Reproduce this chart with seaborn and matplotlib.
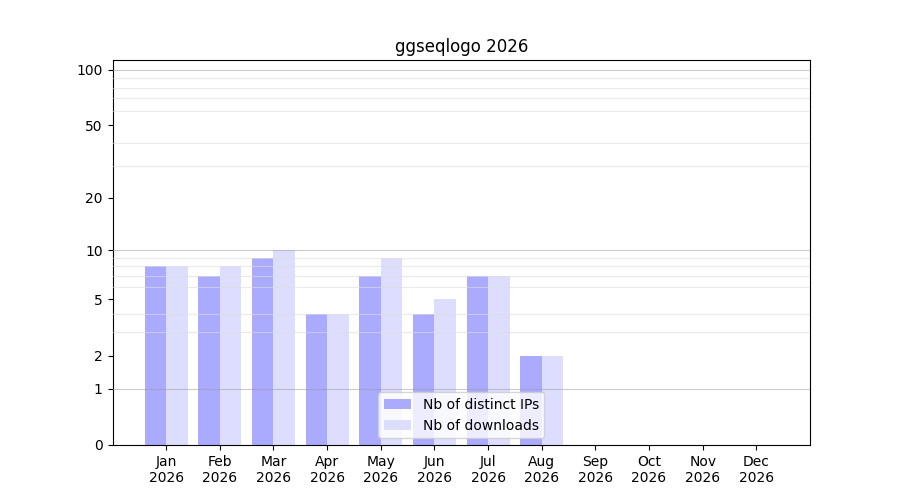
import numpy as np
import pandas as pd
import seaborn as sns
import matplotlib.pyplot as plt

months = ["Jan", "Feb", "Mar", "Apr", "May", "Jun",
          "Jul", "Aug", "Sep", "Oct", "Nov", "Dec"]
year = "2026"
distinct_ips = [8, 7, 9, 4, 7, 4, 7, 2, 0, 0, 0, 0]
downloads = [8, 8, 10, 4, 9, 5, 7, 2, 0, 0, 0, 0]
series_names = ["Nb of distinct IPs", "Nb of downloads"]
ytick_values = [0, 1, 2, 5, 10, 20, 50, 100]

df = pd.DataFrame({
    "month": months * 2,
    "count": distinct_ips + downloads,
    "series": [series_names[0]] * 12 + [series_names[1]] * 12,
})

fig, ax = plt.subplots(figsize=(9, 5), dpi=100)

sns.barplot(
    data=df, x="month", y="count", hue="series",
    hue_order=series_names, order=months,
    palette=["#aaaaff", "#ddddff"], linewidth=0, saturation=1,
    ax=ax, zorder=1,
)

# log(1 + x) scale so that zero stays on the axis
ax.set_yscale("function", functions=(lambda v: np.log10(1 + np.clip(v, 0, None)),
                                     lambda v: 10 ** v - 1))
ax.set_ylim(0, 113)
ax.set_xlim(-1, 12)

ax.set_yticks(ytick_values)
ax.set_yticklabels([str(v) for v in ytick_values])
minor = list(range(2, 10)) + list(range(20, 100, 10))
ax.set_yticks(minor, minor=True)
ax.tick_params(axis="y", which="minor", length=0)
ax.set_axisbelow(False)
ax.grid(False)
ax.yaxis.grid(True, which="minor", color="#dddddd", linewidth=0.8, alpha=0.6)
for v in [1, 10, 100]:
    ax.axhline(v, color="#999999", linewidth=0.8, alpha=0.5, zorder=3)

ax.set_xticks(range(len(months)))
ax.set_xticklabels([f"{m}\n{year}" for m in months])
ax.set_xlabel("")
ax.set_ylabel("")
ax.set_title("ggseqlogo 2026")
ax.legend(loc="lower center", title=None)

fig.savefig("out.png")
